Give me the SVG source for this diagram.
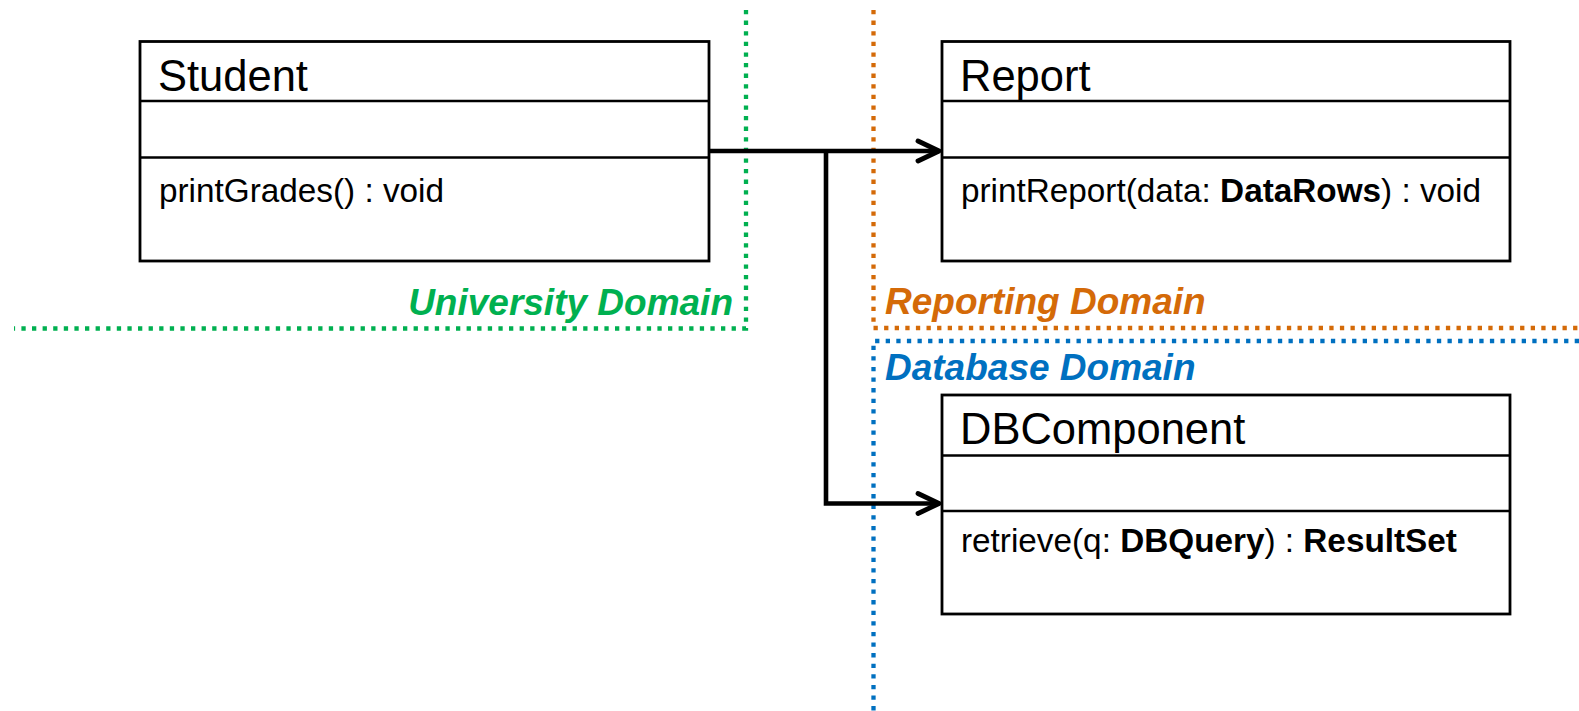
<svg xmlns="http://www.w3.org/2000/svg" width="1579" height="711" viewBox="0 0 1579 711">
  <style>
    .box { fill: #ffffff; stroke: #000000; stroke-width: 2.8; }
    .div { stroke: #000000; stroke-width: 2.6; }
    .title { font-family: "Liberation Sans", Arial, sans-serif; font-size: 43.5px; fill: #000000; }
    .op { font-family: "Liberation Sans", Arial, sans-serif; font-size: 33.3px; fill: #000000; }
    .b { font-weight: bold; }
    .domain { fill: none; stroke-width: 4.3; stroke-dasharray: 4.3 6.3; }
    .dlabel { font-family: "Liberation Sans", Arial, sans-serif; font-size: 37px; font-weight: bold; font-style: italic; }
    .conn { fill: none; stroke: #000000; stroke-width: 4.6; }
  </style>
  <defs>
    <marker id="open-arrow" markerUnits="userSpaceOnUse" markerWidth="32" markerHeight="32" viewBox="-28 -14 32 28" refX="0" refY="0" orient="auto" overflow="visible">
      <path d="M-21,-10 L0,0 L-21,10" fill="none" stroke="#000000" stroke-width="4.8" stroke-linejoin="round" stroke-linecap="round"/>
    </marker>
  </defs>
  <rect width="1579" height="711" fill="#ffffff"/>

  <!-- domain boundaries -->
  <g id="domains">
    <path class="domain" d="M746,10 V328.5 H14" stroke="#00B050"/>
    <path class="domain" d="M873.5,10 V328 H1579" stroke="#D46A08"/>
    <path class="domain" d="M1579,341 H873.5 V711" stroke="#0070C0"/>
    <text class="dlabel" x="733" y="315" text-anchor="end" fill="#00B050">University Domain</text>
    <text class="dlabel" x="885" y="314" fill="#D46A08">Reporting Domain</text>
    <text class="dlabel" x="885" y="380" fill="#0070C0">Database Domain</text>
  </g>

  <!-- Student class -->
  <g id="student">
    <rect class="box" x="140" y="41.5" width="569" height="219.5"/>
    <line class="div" x1="140" y1="101" x2="709" y2="101"/>
    <line class="div" x1="140" y1="157.5" x2="709" y2="157.5"/>
    <text class="title" x="158" y="91">Student</text>
    <text class="op" x="159" y="202">printGrades() : void</text>
  </g>

  <!-- Report class -->
  <g id="report">
    <rect class="box" x="942" y="41.5" width="568" height="219.5"/>
    <line class="div" x1="942" y1="101" x2="1510" y2="101"/>
    <line class="div" x1="942" y1="157.5" x2="1510" y2="157.5"/>
    <text class="title" x="960" y="91">Report</text>
    <text class="op" x="961" y="202">printReport(data: <tspan class="b">DataRows</tspan>) : void</text>
  </g>

  <!-- DBComponent class -->
  <g id="dbcomponent">
    <rect class="box" x="942" y="395" width="568" height="219"/>
    <line class="div" x1="942" y1="455.5" x2="1510" y2="455.5"/>
    <line class="div" x1="942" y1="511" x2="1510" y2="511"/>
    <text class="title" x="960" y="443.5">DBComponent</text>
    <text class="op" x="961" y="552">retrieve(q: <tspan class="b">DBQuery</tspan>) : <tspan class="b">ResultSet</tspan></text>
  </g>

  <!-- dependencies -->
  <g id="connectors">
    <path class="conn" d="M709,151 H939" marker-end="url(#open-arrow)"/>
    <path class="conn" d="M826,151 V503.5 H939" marker-end="url(#open-arrow)"/>
  </g>
</svg>
